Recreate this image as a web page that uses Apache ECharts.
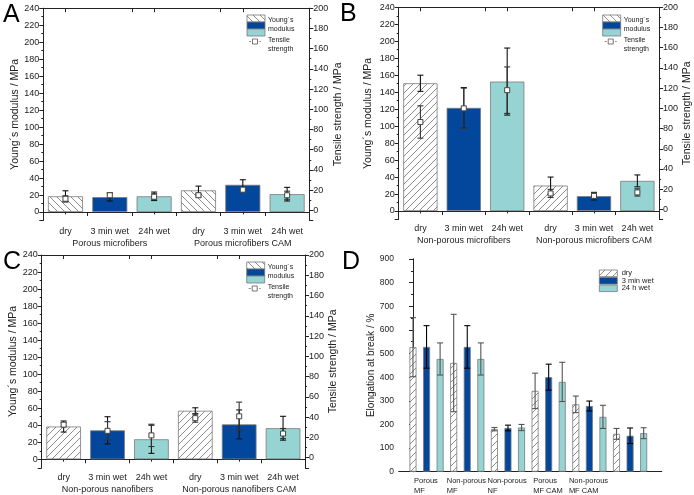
<!DOCTYPE html>
<html><head><meta charset="utf-8">
<script src="https://cdn.jsdelivr.net/npm/echarts@6/dist/echarts.min.js"></script>
<style>html,body{margin:0;padding:0;background:#fff}#c{width:694px;height:495px}</style>
</head><body><div id="c"></div>
<script>
// ---------- DATA ----------
const tickLabels = ['dry', '3 min wet', '24h wet', 'dry', '3 min wet', '24h wet'];

const groupsA = ['Porous microfibers', 'Porous microfibers CAM'];
const modulusA = [18.5, 17.5, 18.5, 25.5, 32, 21];
const modulusErrA = [6.5, 4.5, 5, 5, 6, 8];
const tensileA = [11.5, 15, 13.5, 15, 20.5, 15];
const tensileErrA = [3, 2.5, 3, 2, 2, 4];

const groupsB = ['Non-porous microfibers', 'Non-porous microfibers CAM'];
const modulusB = [150.5, 121.5, 152.5, 30, 17.5, 35.5];
const modulusErrB = [9.5, 24, 39.5, 10, 4.5, 7];
const tensileB = [86.5, 100, 118, 15.8, 13.4, 16.8];
const tensileErrB = [16, 20, 23, 4, 3, 3.6];

const groupsC = ['Non-porous nanofibers', 'Non-porous nanofibers CAM'];
const modulusC = [38.5, 34, 23.5, 57, 41, 36.5];
const modulusErrC = [6.5, 16, 16.5, 3.5, 17, 14];
const tensileC = [32.6, 26.5, 22, 39, 40.8, 23.8];
const tensileErrC = [2, 9, 11, 4, 14, 5];

const leftTicks = [0, 20, 40, 60, 80, 100, 120, 140, 160, 180, 200, 220, 240];
const rightTicks = [0, 20, 40, 60, 80, 100, 120, 140, 160, 180, 200];

const dGroups = ['Porous\nMF', 'Non-porous\nMF', 'Non-porous\nNF', 'Porous\nMF CAM', 'Non-porous\nMF CAM', 'Non-porous\nNF CAM'];
const dConditions = ['dry', '3 min wet', '24 h wet'];
const elongDry = [527, 460, 180, 342, 285, 160];
const elongDryErr = [125, 206, 7, 75, 35, 23];
const elong3min = [528, 528, 185, 400, 278, 152];
const elong3minErr = [90, 90, 12, 55, 21, 33];
const elong24h = [477, 477, 187, 380, 232, 163];
const elong24hErr = [68, 68, 13, 83, 49, 23];

// ---------- STYLE ----------
const FONT = '"Liberation Sans", Arial, sans-serif';
const BLUE = '#02479c', TEAL = '#95d4d3', EDGE = '#7a7a7a', INK = '#222';

function hatch(dir) {
  const s = 7, c = document.createElement('canvas');
  c.width = s; c.height = s;
  const g = c.getContext('2d');
  g.fillStyle = '#fff'; g.fillRect(0, 0, s, s);
  g.strokeStyle = '#8c8c8c'; g.lineWidth = 1; g.beginPath();
  if (dir === '/') {
    g.moveTo(-1, s + 1); g.lineTo(s + 1, -1);
    g.moveTo(-1, 1); g.lineTo(1, -1);
    g.moveTo(s - 1, s + 1); g.lineTo(s + 1, s - 1);
  } else {
    g.moveTo(-1, -1); g.lineTo(s + 1, s + 1);
    g.moveTo(s - 1, -1); g.lineTo(s + 1, 1);
    g.moveTo(-1, s - 1); g.lineTo(1, s + 1);
  }
  g.stroke();
  return { image: c, repeat: 'repeat' };
}
const HATCH_F = hatch('/'), HATCH_B = hatch('\\');

function errRender(color, cap) {
  return function (params, api) {
    const x = api.value(0), v = api.value(1), e = api.value(2);
    const a = api.coord([x, v + e]), b = api.coord([x, v - e]);
    const st = { stroke: color, lineWidth: 1.1 };
    return { type: 'group', children: [
      { type: 'line', shape: { x1: a[0], y1: a[1], x2: b[0], y2: b[1] }, style: st },
      { type: 'line', shape: { x1: a[0] - cap, y1: a[1], x2: a[0] + cap, y2: a[1] }, style: st },
      { type: 'line', shape: { x1: b[0] - cap, y1: b[1], x2: b[0] + cap, y2: b[1] }, style: st }
    ] };
  };
}

const grids = [], xAxes = [], yAxes = [], series = [], graphic = [];
const line = { show: true, lineStyle: { color: INK, width: 1 } };
const tickStyle = { color: INK, width: 1 };

function addPanel(box, groups, mod, modErr, ten, tenErr, barHatch, names) {
  const gi = grids.length;
  grids.push({ left: box.l, right: box.r, top: box.t, bottom: box.b });
  const xb = xAxes.length, yb = yAxes.length;
  xAxes.push({ gridIndex: gi, type: 'category', data: tickLabels, position: 'bottom', axisLine: line,
    axisTick: { show: true, length: 4, lineStyle: tickStyle },
    axisLabel: { interval: 0, fontSize: 9, fontFamily: FONT, color: INK, margin: box.lm } });
  xAxes.push({ gridIndex: gi, type: 'category', data: tickLabels, position: 'bottom', axisLine: { show: false },
    axisTick: { show: true, alignWithLabel: true, length: 4, lineStyle: tickStyle }, axisLabel: { show: false } });
  xAxes.push({ gridIndex: gi, type: 'category', data: groups, position: 'bottom', axisLine: { show: false },
    axisTick: { show: false }, axisLabel: { interval: 0, fontSize: 9, fontFamily: FONT, color: INK, margin: box.lm + 12 } });
  xAxes.push({ gridIndex: gi, type: 'category', data: tickLabels, position: 'top', axisLine: line,
    axisTick: { show: true, inside: true, length: 4, lineStyle: tickStyle }, axisLabel: { show: false } });
  xAxes.push({ gridIndex: gi, type: 'category', data: tickLabels, position: 'top', axisLine: { show: false },
    axisTick: { show: true, inside: true, alignWithLabel: true, length: 4, lineStyle: tickStyle }, axisLabel: { show: false } });
  yAxes.push({ gridIndex: gi, type: 'value', position: 'left', min: -10, max: 240, splitNumber: 12,
    name: 'Young\u00b4s modulus / MPa', nameLocation: 'middle', nameGap: names[0],
    nameTextStyle: { fontSize: 10.5, fontFamily: FONT, color: INK },
    axisLine: line, axisTick: { show: true, length: 4, lineStyle: tickStyle },
    minorTick: { show: true, splitNumber: 2, length: 2, lineStyle: tickStyle },
    axisLabel: { fontSize: 9, fontFamily: FONT, color: INK, margin: 4, formatter: v => leftTicks.includes(v) ? String(v) : '' },
    splitLine: { show: false }, minorSplitLine: { show: false } });
  yAxes.push({ gridIndex: gi, type: 'value', position: 'right', min: -10, max: 200, splitNumber: 10,
    name: 'Tensile strength / MPa', nameLocation: 'middle', nameGap: names[1],
    nameTextStyle: { fontSize: 10.5, fontFamily: FONT, color: INK },
    axisLine: line, axisTick: { show: true, length: 4, lineStyle: tickStyle },
    minorTick: { show: true, splitNumber: 2, length: 2, lineStyle: tickStyle },
    axisLabel: { fontSize: 9, fontFamily: FONT, color: INK, margin: 4, formatter: v => rightTicks.includes(v) ? String(v) : '' },
    splitLine: { show: false } });
  const fills = [barHatch, BLUE, TEAL];
  series.push({ type: 'bar', xAxisIndex: xb, yAxisIndex: yb, barCategoryGap: '21%',
    data: mod.map((v, i) => ({ value: v, itemStyle: { color: fills[i % 3] } })),
    itemStyle: { borderColor: EDGE, borderWidth: 0.8 }, z: 2 });
  series.push({ type: 'custom', xAxisIndex: xb, yAxisIndex: yb, renderItem: errRender('#111', 3),
    data: mod.map((v, i) => [i, v, modErr[i]]), encode: { x: 0, y: 1 }, z: 4 });
  series.push({ type: 'custom', xAxisIndex: xb, yAxisIndex: yb + 1, renderItem: errRender('#333', 3),
    data: ten.map((v, i) => [i, v, tenErr[i]]), encode: { x: 0, y: 1 }, z: 5 });
  series.push({ type: 'scatter', xAxisIndex: xb, yAxisIndex: yb + 1, symbol: 'rect', symbolSize: 5,
    data: ten.map((v, i) => [i, v]), itemStyle: { color: '#fff', borderColor: '#444', borderWidth: 1, opacity: 1 }, z: 6 });
}

function panelLegend(x, y, sw) {
  const tx = { fontSize: 7, fontFamily: FONT, fill: INK, verticalAlign: 'middle' };
  graphic.push(
    { type: 'rect', shape: { x, y, width: 18, height: 7 }, style: { fill: sw, stroke: EDGE, lineWidth: 0.8 } },
    { type: 'rect', shape: { x, y: y + 7, width: 18, height: 7 }, style: { fill: BLUE, stroke: EDGE, lineWidth: 0.8 } },
    { type: 'rect', shape: { x, y: y + 14, width: 18, height: 7 }, style: { fill: TEAL, stroke: EDGE, lineWidth: 0.8 } },
    { type: 'text', x: x + 21, y: y + 5, style: Object.assign({ text: 'Young\u00b4s' }, tx) },
    { type: 'text', x: x + 21, y: y + 14, style: Object.assign({ text: 'modulus' }, tx) },
    { type: 'line', shape: { x1: x + 2, y1: y + 26.5, x2: x + 14, y2: y + 26.5 }, style: { stroke: '#666', lineWidth: 0.8, lineDash: [2, 1.5] } },
    { type: 'rect', shape: { x: x + 5.5, y: y + 24, width: 5, height: 5 }, style: { fill: '#fff', stroke: '#555', lineWidth: 0.8 } },
    { type: 'text', x: x + 21, y: y + 25, style: Object.assign({ text: 'Tensile' }, tx) },
    { type: 'text', x: x + 21, y: y + 34, style: Object.assign({ text: 'strength' }, tx) }
  );
}

addPanel({ l: 43.3, r: 384.7, t: 8.2, b: 274.5, lm: 7 }, groupsA, modulusA, modulusErrA, tensileA, tensileErrA, HATCH_B, [23, 20]);
addPanel({ l: 398.7, r: 34, t: 7.3, b: 275.5, lm: 5 }, groupsB, modulusB, modulusErrB, tensileB, tensileErrB, HATCH_F, [25, 21.5]);
addPanel({ l: 41.7, r: 389, t: 255, b: 27.2, lm: 5 }, groupsC, modulusC, modulusErrC, tensileC, tensileErrC, HATCH_F, [21.5, 23]);
panelLegend(247, 15, HATCH_B);
panelLegend(602.7, 15, HATCH_B);
panelLegend(246.7, 262, HATCH_B);

// ---------- PANEL D ----------
const gD = grids.length;
grids.push({ left: 399, right: 32.3, top: 259, bottom: 23.3 });
const measure = document.createElement('canvas').getContext('2d');
measure.font = '7.5px ' + FONT;
const dRich = {};
dGroups.forEach((g, i) => {
  const w = Math.max(...g.split('\n').map(s => measure.measureText(s).width));
  dRich['g' + i] = { width: Math.ceil(w) + 1, align: 'left', fontSize: 7.5, lineHeight: 9.3, fontFamily: FONT, color: INK };
});
const xD = xAxes.length;
xAxes.push({ gridIndex: gD, type: 'value', position: 'bottom', min: -1.03, max: 18.33, axisLine: line,
  axisTick: { show: false }, splitLine: { show: false },
  axisLabel: { customValues: dGroups.map((g, i) => i * 3 + 1), margin: 5, align: 'center',
    formatter: v => { const i = Math.round((v - 1) / 3); return dGroups[i].split('\n').map(s => '{g' + i + '|' + s + '}').join('\n'); },
    rich: dRich } });
xAxes.push({ gridIndex: gD, type: 'value', position: 'top', min: -1.03, max: 18.33, axisLine: line,
  axisTick: { show: false }, axisLabel: { show: false }, splitLine: { show: false } });
const yD = yAxes.length;
yAxes.push({ gridIndex: gD, type: 'value', position: 'left', min: 0, max: 900, interval: 100,
  name: 'Elongation at break / %', nameLocation: 'middle', nameGap: 22,
  nameTextStyle: { fontSize: 10, fontFamily: FONT, color: INK },
  axisLine: line, axisTick: { show: true, length: 4, lineStyle: tickStyle },
  minorTick: { show: true, splitNumber: 2, length: 2, lineStyle: tickStyle },
  axisLabel: { fontSize: 8.5, fontFamily: FONT, color: INK, margin: 5 }, splitLine: { show: false } });
yAxes.push({ gridIndex: gD, type: 'value', position: 'right', min: 0, max: 900, axisLine: line,
  axisTick: { show: false }, axisLabel: { show: false }, splitLine: { show: false } });

const dSets = [
  [elongDry, elongDryErr, HATCH_F, '#555'],
  [elong3min, elong3minErr, BLUE, '#000'],
  [elong24h, elong24hErr, TEAL, '#555']
];
dSets.forEach(([vals, errs, fill, ec], s) => {
  series.push({ type: 'bar', name: dConditions[s], xAxisIndex: xD, yAxisIndex: yD, barWidth: 7, barGap: '-100%',
    data: vals.map((v, g) => [g * 3 + s, v]), itemStyle: { color: fill, borderColor: EDGE, borderWidth: 0.8 }, z: 2 });
  series.push({ type: 'custom', xAxisIndex: xD, yAxisIndex: yD, renderItem: errRender(ec, 3),
    data: vals.map((v, g) => [g * 3 + s, v, errs[g]]), encode: { x: 0, y: 1 }, z: 4 });
});
// D legend
[[HATCH_F, 270], [BLUE, 277.5], [TEAL, 285]].forEach(([f, y], i) => {
  graphic.push({ type: 'rect', shape: { x: 599.3, y, width: 18, height: 6.6 }, style: { fill: f, stroke: EDGE, lineWidth: 0.8 } });
  graphic.push({ type: 'text', x: 621.7, y: y + 3.1, style: { text: dConditions[i], fontSize: 7.5, fontFamily: FONT, fill: INK, verticalAlign: 'middle' } });
});

// panel letters
[['A', 3, 15], ['B', 340, 14], ['C', 3, 262], ['D', 342, 262]].forEach(([t, x, y]) => {
  graphic.push({ type: 'text', x, y, style: { text: t, fontSize: 25, fontFamily: FONT, fill: '#000', verticalAlign: 'middle' } });
});

const chart = echarts.init(document.getElementById('c'), null, { renderer: 'canvas' });
chart.setOption({ animation: false, backgroundColor: '#fff', grid: grids, xAxis: xAxes, yAxis: yAxes, series, graphic });
</script></body></html>
